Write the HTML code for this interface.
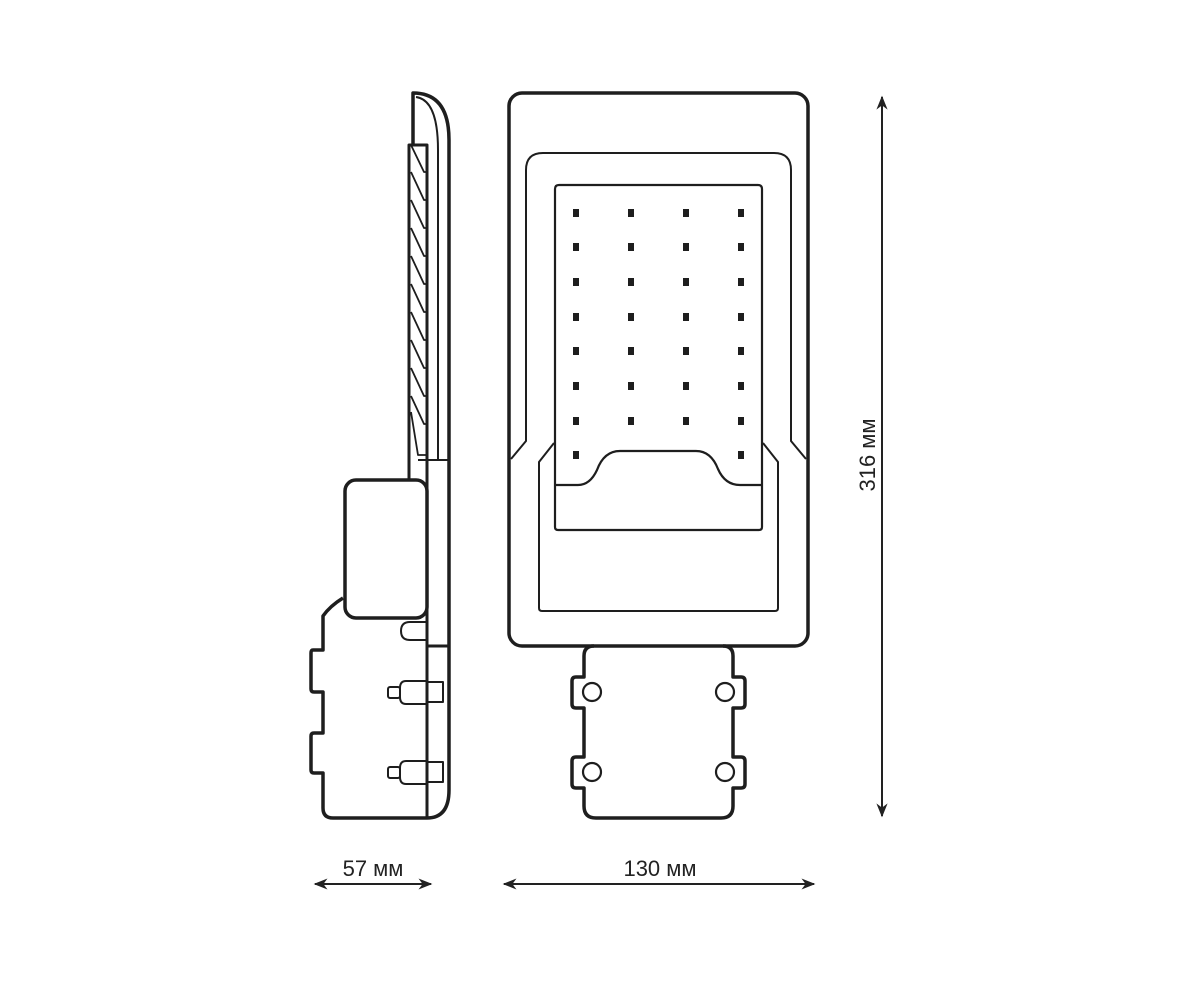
<!DOCTYPE html>
<html><head><meta charset="utf-8"><style>
html,body{margin:0;padding:0;background:#fff;}
svg{display:block}
text{font-family:"Liberation Sans",sans-serif;font-size:22px;fill:#222;}
</style></head><body>
<svg width="1200" height="982" viewBox="0 0 1200 982" xmlns="http://www.w3.org/2000/svg">
<defs>
<marker id="ah" viewBox="0 0 10 10" refX="9" refY="5" markerWidth="7" markerHeight="7" orient="auto-start-reverse">
<path d="M0,1 L10,5 L0,9 L3,5 Z" fill="#222"/></marker>
</defs>
<g fill="none" stroke="#1e1e1e" stroke-linejoin="round">
<!-- SIDE VIEW -->
<path d="M413,145 L413,93 Q449,93 449,140 L449,790 Q449,818 427,818" stroke-width="3.5"/>
<path d="M416,97 Q438,100 438,150 L438,460" stroke-width="2"/>
<line x1="418" y1="460" x2="449" y2="460" stroke-width="2"/>
<path d="M409,480 L409,145 L427,145 L427,818" stroke-width="3"/>
<line x1="427" y1="145" x2="427" y2="460" stroke-width="2"/>
<path d="M411,145 L424,172 L427,172 M411,172 L424,200 L427,200 M411,200 L424,228 L427,228 M411,228 L424,256 L427,256 M411,256 L424,284 L427,284 M411,284 L424,312 L427,312 M411,312 L424,340 L427,340 M411,340 L424,368 L427,368 M411,368 L424,396 L427,396 M411,396 L424,424 L427,424 M411,412 L418,455 L427,455" stroke-width="1.8"/>
<rect x="345" y="480" width="82" height="138" rx="11" stroke-width="3.5"/>
<path d="M343,598 Q330,606 323,616 L323,650 L313,650 Q311,650 311,653 L311,689 Q311,692 314,692 L323,692 L323,733 L314,733 Q311,733 311,736 L311,770 Q311,773 314,773 L323,773 L323,808 Q323,818 333,818 L427,818" stroke-width="3.5"/>
<line x1="427" y1="646" x2="449" y2="646" stroke-width="3"/>
<path d="M427,622 L410,622 Q401,622 401,631 Q401,640 410,640 L427,640" stroke-width="2"/>
<g stroke-width="2">
<rect x="388" y="687" width="12" height="11" rx="2"/>
<path d="M427,681 L406,681 Q400,681 400,688 L400,697 Q400,704 406,704 L427,704"/>
<rect x="427" y="682" width="16" height="20"/>
<rect x="388" y="767" width="12" height="11" rx="2"/>
<path d="M427,761 L406,761 Q400,761 400,768 L400,777 Q400,784 406,784 L427,784"/>
<rect x="427" y="762" width="16" height="20"/>
</g>
<!-- FRONT VIEW -->
<rect x="509" y="93" width="299" height="553" rx="13" stroke-width="3.5"/>
<path d="M511,459 L526,441 L526,170 Q526,153 543,153 L774,153 Q791,153 791,170 L791,441 L806,459" stroke-width="2"/>
<path d="M554,443 L539,462 L539,608 Q539,611 542,611 L775,611 Q778,611 778,608 L778,462 L763,443" stroke-width="2"/>
<path d="M555,527 L555,189 Q555,185 559,185 L758,185 Q762,185 762,189 L762,527 Q762,530 759,530 L558,530 Q555,530 555,527 Z" stroke-width="2.2"/>
<path d="M555,485 L578,485 Q590,485 597,470 Q604,451 620,451 L696,451 Q711,451 718,469 Q725,485 740,485 L762,485" stroke-width="2.2"/>
<!-- bracket -->
<path d="M594,646 Q584,646 584,656 L584,677 L576,677 Q572,677 572,681 L572,704 Q572,708 576,708 L584,708 L584,757 L576,757 Q572,757 572,761 L572,784 Q572,788 576,788 L584,788 L584,806 Q584,818 596,818 L721,818 Q733,818 733,806 L733,788 L741,788 Q745,788 745,784 L745,761 Q745,757 741,757 L733,757 L733,708 L741,708 Q745,708 745,704 L745,681 Q745,677 741,677 L733,677 L733,656 Q733,646 723,646" stroke-width="3.5"/>
<g stroke-width="2.2">
<circle cx="592" cy="692" r="9"/><circle cx="725" cy="692" r="9"/>
<circle cx="592" cy="772" r="9"/><circle cx="725" cy="772" r="9"/>
</g>
<!-- dimension lines -->
<g stroke="#222" stroke-width="2">
<line x1="882" y1="97" x2="882" y2="816" marker-start="url(#ah)" marker-end="url(#ah)"/>
<line x1="315" y1="884" x2="431" y2="884" marker-start="url(#ah)" marker-end="url(#ah)"/>
<line x1="504" y1="884" x2="814" y2="884" marker-start="url(#ah)" marker-end="url(#ah)"/>
</g>
</g>
<g fill="#1e1e1e">
<g id="col">
<rect x="573" y="209" width="6" height="8"/><rect x="573" y="243" width="6" height="8"/>
<rect x="573" y="278" width="6" height="8"/><rect x="573" y="313" width="6" height="8"/>
<rect x="573" y="347" width="6" height="8"/><rect x="573" y="382" width="6" height="8"/>
<rect x="573" y="417" width="6" height="8"/>
</g>
<use href="#col" x="55"/><use href="#col" x="110"/><use href="#col" x="165"/>
<rect x="573" y="451" width="6" height="8"/><rect x="738" y="451" width="6" height="8"/>
</g>
<text x="373" y="876" text-anchor="middle">57 мм</text>
<text x="660" y="876" text-anchor="middle">130 мм</text>
<text x="0" y="0" text-anchor="middle" transform="translate(875,455) rotate(-90)">316 мм</text>
</svg>
</body></html>
